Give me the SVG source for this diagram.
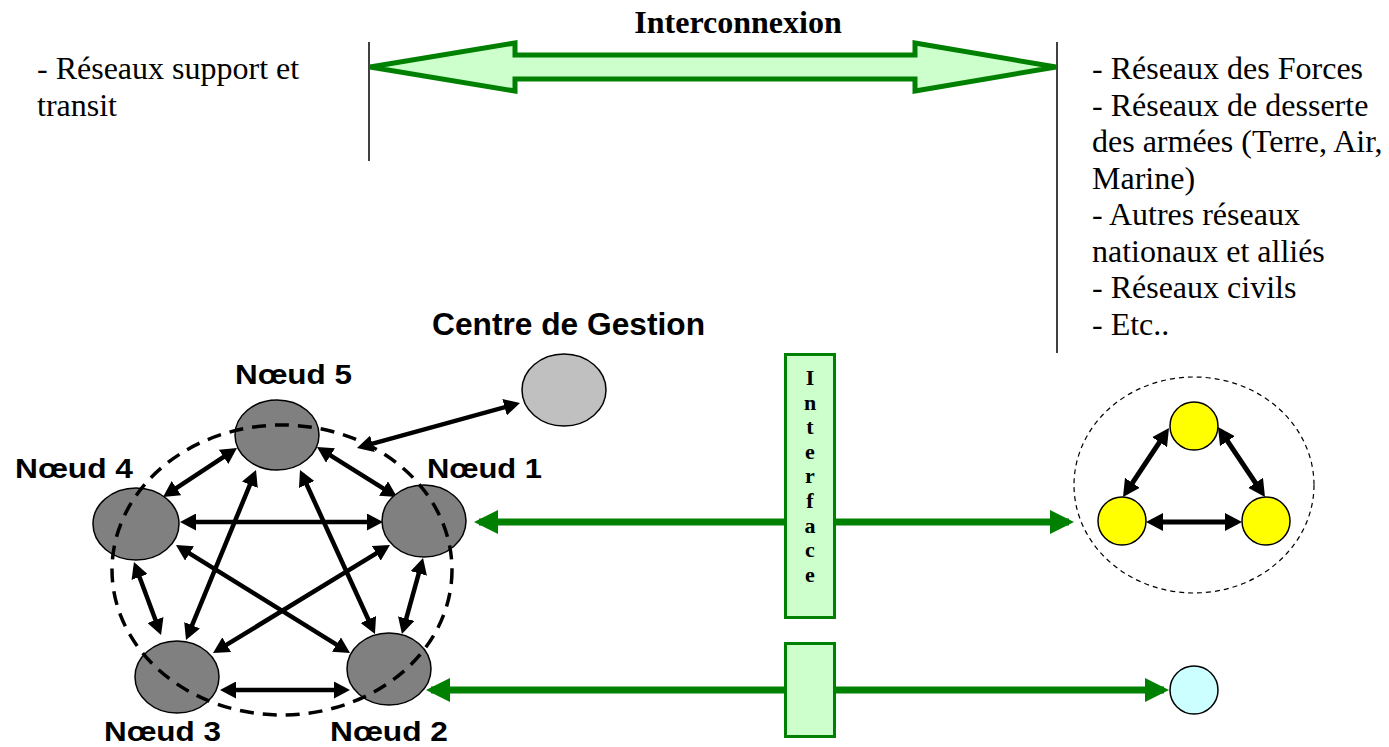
<svg xmlns="http://www.w3.org/2000/svg" width="1389" height="747" viewBox="0 0 1389 747">
<defs>
<style>
.serif{font-family:"Liberation Serif","Times New Roman",serif;font-size:32px;fill:#000}
.sb{font-family:"Liberation Serif","Times New Roman",serif;font-weight:bold;fill:#000}
.sans{font-family:"Liberation Sans",Arial,sans-serif;font-weight:bold;fill:#000}
.node{fill:#808080;stroke:#000;stroke-width:1.5}
.yel{fill:#FFFF00;stroke:#000;stroke-width:1.5}
.blk{stroke:#000;stroke-width:4.5;fill:none;marker-start:url(#bh);marker-end:url(#bh)}
.blk2{stroke:#000;stroke-width:5;fill:none;marker-start:url(#bhL);marker-end:url(#bhL)}
.grn{stroke:#008000;stroke-width:7;fill:none;marker-start:url(#gh);marker-end:url(#gh)}
.ibox{fill:#CCFFCC;stroke:#008000;stroke-width:3}
</style>
<marker id="bh" viewBox="0 0 16 17" markerUnits="userSpaceOnUse" markerWidth="16" markerHeight="17" refX="11" refY="8.5" orient="auto-start-reverse"><path d="M0,0 L16,8.5 L0,17 Z" fill="#000"/></marker>
<marker id="bhL" viewBox="0 0 17 18" markerUnits="userSpaceOnUse" markerWidth="17" markerHeight="18" refX="12" refY="9" orient="auto-start-reverse"><path d="M0,0 L17,9 L0,18 Z" fill="#000"/></marker>
<marker id="gh" viewBox="0 0 24 24" markerUnits="userSpaceOnUse" markerWidth="24" markerHeight="24" refX="19" refY="12" orient="auto-start-reverse"><path d="M0,0 L24,12 L0,24 Z" fill="#008000"/></marker>
</defs>
<rect width="1389" height="747" fill="#fff"/>

<g id="interconnexion">
<line x1="369" y1="42" x2="369" y2="161" stroke="#000" stroke-width="1.5"/>
<line x1="1057" y1="42" x2="1057" y2="353" stroke="#000" stroke-width="1.5"/>
<polygon points="370,67 515,43 515,55 915,55 915,43 1056,67 915,91 915,79 515,79 515,91" fill="#CCFFCC" stroke="#008000" stroke-width="5"/>
<text class="sb" x="738" y="33" font-size="32" text-anchor="middle">Interconnexion</text>
</g>

<g id="left-text">
<text class="serif" x="37" y="79">- Réseaux support et</text>
<text class="serif" x="37" y="116">transit</text>
</g>

<g id="right-text">
<text class="serif" x="1092" y="79">- Réseaux des Forces</text>
<text class="serif" x="1092" y="116">- Réseaux de desserte</text>
<text class="serif" x="1092" y="152">des armées (Terre, Air,</text>
<text class="serif" x="1092" y="189">Marine)</text>
<text class="serif" x="1092" y="225">- Autres réseaux</text>
<text class="serif" x="1092" y="262">nationaux et alliés</text>
<text class="serif" x="1092" y="298">- Réseaux civils</text>
<text class="serif" x="1092" y="335">- Etc..</text>
</g>

<g id="connectors">
<line class="grn" x1="479" y1="522" x2="1069" y2="522"/>
<line class="grn" x1="431" y1="690" x2="1164" y2="690"/>
<line class="blk" x1="232.8" y1="450.8" x2="167.2" y2="494.2"/>
<line class="blk" x1="321.2" y1="449.7" x2="392.8" y2="494.3"/>
<line class="blk" x1="185" y1="522" x2="378" y2="522"/>
<line class="blk" x1="254.1" y1="474.6" x2="187.9" y2="635.4"/>
<line class="blk" x1="302.1" y1="474.5" x2="372.9" y2="629.5"/>
<line class="blk" x1="180.2" y1="547.6" x2="345.8" y2="650.4"/>
<line class="blk" x1="385.7" y1="547.6" x2="217.3" y2="650.4"/>
<line class="blk" x1="135.7" y1="566.7" x2="159.3" y2="630.3"/>
<line class="blk" x1="421.7" y1="562.8" x2="403.3" y2="629.2"/>
<line class="blk" x1="225" y1="690" x2="345" y2="690"/>
<line class="blk" x1="361.8" y1="446.7" x2="515.2" y2="404.3"/>
<line class="blk2" x1="1166.2" y1="432.2" x2="1125.8" y2="492.8"/>
<line class="blk2" x1="1220.8" y1="431.2" x2="1262.2" y2="492.8"/>
<line class="blk2" x1="1151" y1="522" x2="1237" y2="522"/>
</g>

<g id="interface">
<rect class="ibox" x="785.5" y="354.5" width="49" height="263"/>
<g class="sb" font-size="22" text-anchor="middle">
<text x="810" y="385">I</text>
<text x="810" y="410">n</text>
<text x="810" y="434">t</text>
<text x="810" y="459">e</text>
<text x="810" y="483">r</text>
<text x="810" y="508">f</text>
<text x="810" y="533">a</text>
<text x="810" y="557">c</text>
<text x="810" y="582">e</text>
</g>
</g>
<g id="interface-2">
<rect class="ibox" x="785.5" y="643.5" width="49" height="93"/>
</g>

<g id="centre-gestion">
<ellipse cx="564" cy="390" rx="42" ry="36" fill="#C0C0C0" stroke="#000" stroke-width="1.5"/>
<text class="sans" x="432" y="335" font-size="32" textLength="273" lengthAdjust="spacingAndGlyphs">Centre de Gestion</text>
</g>

<g id="noeud5">
<ellipse class="node" cx="277" cy="435" rx="42" ry="35"/>
<text class="sans" x="235" y="384" font-size="27" textLength="117" lengthAdjust="spacingAndGlyphs">Nœud 5</text>
</g>
<g id="noeud4">
<ellipse class="node" cx="136" cy="524" rx="43" ry="36"/>
<text class="sans" x="15" y="478" font-size="27" textLength="118" lengthAdjust="spacingAndGlyphs">Nœud 4</text>
</g>
<g id="noeud1">
<ellipse class="node" cx="424" cy="521" rx="42" ry="36"/>
<text class="sans" x="427" y="478" font-size="27" textLength="115" lengthAdjust="spacingAndGlyphs">Nœud 1</text>
</g>
<g id="noeud3">
<ellipse class="node" cx="177" cy="677" rx="42" ry="36"/>
<text class="sans" x="104" y="741" font-size="27" textLength="117" lengthAdjust="spacingAndGlyphs">Nœud 3</text>
</g>
<g id="noeud2">
<ellipse class="node" cx="389" cy="669" rx="42" ry="36"/>
<text class="sans" x="330" y="741" font-size="27" textLength="118" lengthAdjust="spacingAndGlyphs">Nœud 2</text>
</g>

<g id="reseau-boundary">
<ellipse cx="282" cy="570" rx="170" ry="145" fill="none" stroke="#000" stroke-width="3.5" stroke-dasharray="14 9"/>
</g>

<g id="reseau-externe">
<ellipse cx="1194" cy="485" rx="120" ry="108" fill="none" stroke="#000" stroke-width="1.2" stroke-dasharray="5 4"/>
</g>
<g id="y-top"><circle class="yel" cx="1194" cy="426" r="24"/></g>
<g id="y-left"><circle class="yel" cx="1122" cy="521" r="24"/></g>
<g id="y-right"><circle class="yel" cx="1266" cy="521" r="24"/></g>
<g id="cyan-node"><circle cx="1194" cy="690" r="24" fill="#CCFFFF" stroke="#000" stroke-width="1.5"/></g>
</svg>
